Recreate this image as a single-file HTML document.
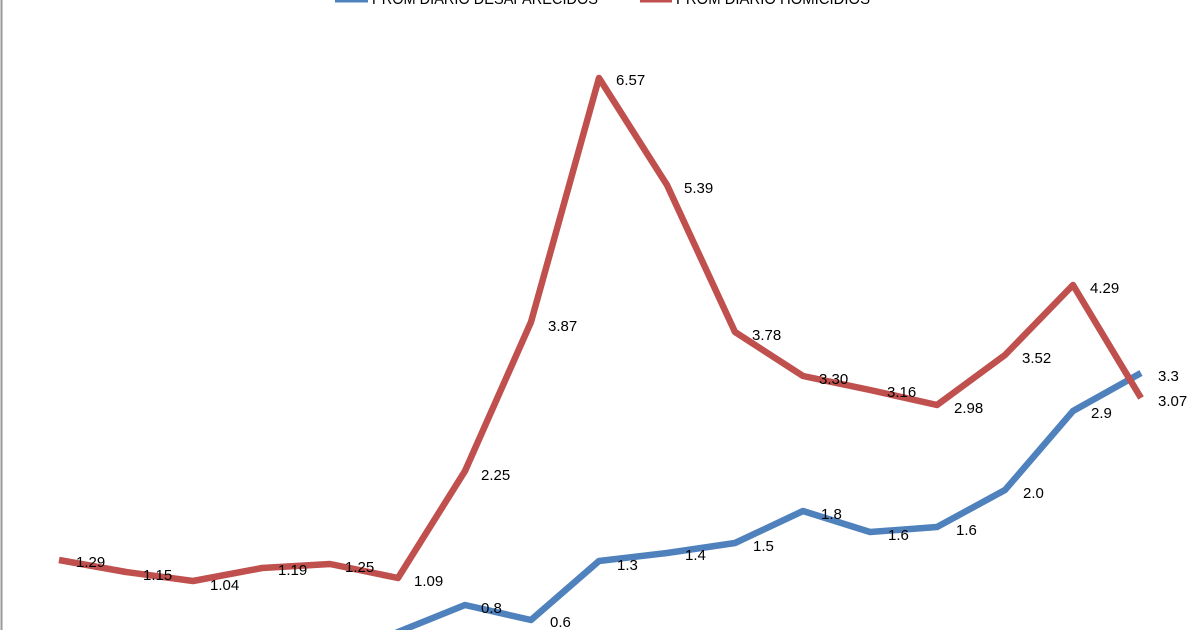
<!DOCTYPE html>
<html><head><style>html,body{margin:0;padding:0;background:#fff;overflow:hidden;width:1200px;height:630px}svg{display:block;overflow:hidden}</style></head>
<body>
<svg width="1200" height="630" viewBox="0 0 1200 630" xmlns="http://www.w3.org/2000/svg" font-family="Liberation Sans, sans-serif">
<defs><clipPath id="c"><rect width="1200" height="630"/></clipPath></defs>
<rect width="1200" height="630" fill="#fff"/>
<g clip-path="url(#c)">
<line x1="1.5" y1="0" x2="1.5" y2="630" stroke="#999" stroke-width="2"/>
<line x1="335" y1="1" x2="368" y2="1" stroke="#4f81bd" stroke-width="3"/>
<text x="372" y="4" font-size="16" fill="#000" textLength="226" lengthAdjust="spacingAndGlyphs">PROM DIARIO DESAPARECIDOS</text>
<line x1="640" y1="1" x2="672" y2="1" stroke="#c0504d" stroke-width="3"/>
<text x="676" y="4" font-size="16" fill="#000" textLength="194" lengthAdjust="spacingAndGlyphs">PROM DIARIO HOMICIDIOS</text>
<polyline fill="none" stroke="#4f81bd" stroke-width="6.5" stroke-linejoin="round" points="390,636 398,632 465,605 531,620 599,561 667,553 735,543 803,511 870,532 937,527 1005,490 1073,411 1141,373"/>
<polyline fill="none" stroke="#c0504d" stroke-width="6.5" stroke-linejoin="round" points="59,560 126,572 193,581 262,568 330,564 398,578 465,471 531,322 599,78 667,185 735,332 803,376 870,390 937,405 1005,355 1073,285 1141,398"/>
<g font-size="15" fill="#000">
<text x="76" y="567">1.29</text><text x="143" y="580">1.15</text><text x="210" y="590">1.04</text>
<text x="278" y="575">1.19</text><text x="345" y="572">1.25</text><text x="414" y="586">1.09</text>
<text x="481" y="480">2.25</text><text x="548" y="331">3.87</text><text x="616" y="85">6.57</text>
<text x="684" y="193">5.39</text><text x="752" y="340">3.78</text><text x="819" y="384">3.30</text>
<text x="887" y="397">3.16</text><text x="954" y="413">2.98</text><text x="1022" y="363">3.52</text>
<text x="1090" y="293">4.29</text><text x="1158" y="406">3.07</text>
<text x="346" y="640">0.5</text><text x="481" y="613">0.8</text><text x="550" y="627">0.6</text>
<text x="617" y="570">1.3</text><text x="685" y="560">1.4</text><text x="753" y="551">1.5</text>
<text x="821" y="519">1.8</text><text x="888" y="540">1.6</text><text x="956" y="535">1.6</text>
<text x="1023" y="498">2.0</text><text x="1091" y="418">2.9</text><text x="1158" y="381">3.3</text>
</g>
</g>
</svg>
</body></html>
